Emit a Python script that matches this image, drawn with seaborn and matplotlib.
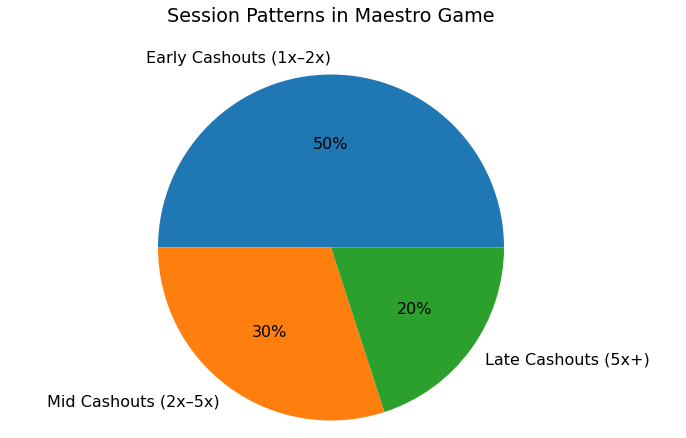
import matplotlib
matplotlib.use("Agg")
import matplotlib.pyplot as plt
import seaborn as sns

labels = ["Early Cashouts (1x–2x)", "Mid Cashouts (2x–5x)", "Late Cashouts (5x+)"]
values = [50, 30, 20]
title = "Session Patterns in Maestro Game"

sns.set_style("white")
plt.rcParams['font.family'] = ['DejaVu Sans']
plt.rcParams['text.color'] = 'black'
colors = sns.color_palette("tab10", 3)

W, H = 686, 439
cx, cy, r = 331, 439 - 248.5, 173
fig = plt.figure(figsize=(W / 100, H / 100), dpi=100)
ax = fig.add_axes([(cx - r) / W, (cy - r) / H, 2 * r / W, 2 * r / H])
ax.pie(values, labels=labels, autopct='%1.0f%%', colors=colors,
       wedgeprops={'linewidth': 0}, textprops={'fontsize': 11.5, 'color': 'black'})
ax.set_xlim(-1, 1)
ax.set_ylim(-1, 1)
ax.axis('off')
fig.text(cx / W, 1 - 17 / H, title, fontsize=13.8, ha='center', va='center', color='black')
fig.savefig("out.png", dpi=100)
